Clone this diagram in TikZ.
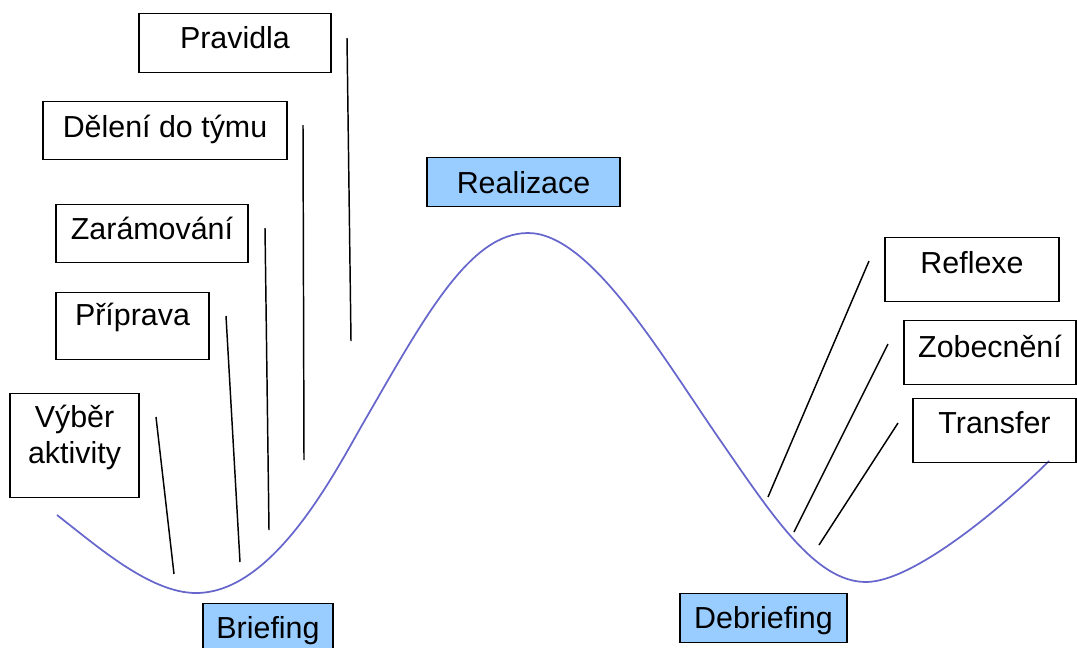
\documentclass[tikz,border=0pt]{standalone}
\usepackage{fontspec}
\setmainfont{Liberation Sans}
\definecolor{curvecol}{RGB}{102,102,204}
\definecolor{hlblue}{RGB}{153,204,255}
\begin{document}
\begin{tikzpicture}[x=0.75pt,y=-0.75pt,
  box/.style={draw=black, line width=1.1pt, inner sep=0pt, anchor=north,
    font=\fontsize{22.8}{27}\selectfont},
  hbox/.style={box, fill=hlblue},
  tick/.style={draw=black, line width=1.1pt},
  wave/.style={draw=curvecol, line width=1.3pt}]
\useasboundingbox (0,0) rectangle (1077,647);
\clip (0,0) rectangle (1077,647);

% curve
\coordinate (c0) at (57,515);
\coordinate (c1) at (196,593);
\coordinate (c2) at (365,420);
\coordinate (c3) at (528,233);
\coordinate (c4) at (720,440);
\coordinate (c5) at (866,582);
\coordinate (c6) at (1049,461);
\draw[wave] (c0) .. controls (97,546) and (150,593) .. (c1)
  .. controls (275,593) and (337,468) .. (c2)
  .. controls (425,316) and (470,233) .. (c3)
  .. controls (590,233) and (660,353) .. (c4)
  .. controls (772,515) and (815,582) .. (c5)
  .. controls (915,582) and (1009,501) .. (c6);

% boxes
\node[box, minimum width=144pt, text height=26.25pt, text depth=18pt] (prav) at (235,13) {Pravidla};
\node[box, minimum width=183pt, text height=27pt, text depth=16.5pt] (del) at (165,101) {Dělení do týmu};
\node[box, minimum width=144pt, text height=26.25pt, text depth=17.25pt] (zar) at (152,204) {Zarámování};
\node[box, minimum width=114.75pt, text height=24.75pt, text depth=25.5pt] (prip) at (132.5,292) {Příprava};
\node[box, minimum width=96.75pt, text height=25.5pt, text depth=52.5pt] (vyb) at (74.5,393)
  {\begin{tabular}[t]{@{}c@{}}Výběr\\aktivity\end{tabular}};
\node[hbox, minimum width=97.5pt, text height=26.25pt, text depth=15pt] (brief) at (268,603) {Briefing};
\node[hbox, minimum width=144.75pt, text height=27pt, text depth=9.75pt] (real) at (523.5,157) {Realizace};
\node[box, minimum width=130.5pt, text height=27pt, text depth=21pt] (refl) at (972,237) {Reflexe};
\node[box, minimum width=129pt, text height=27.75pt, text depth=20.25pt] (zob) at (990,320) {Zobecnění};
\node[box, minimum width=122.25pt, text height=26.25pt, text depth=21.75pt] (trans) at (994.5,398) {Transfer};
\node[hbox, minimum width=125.25pt, text height=26.25pt, text depth=10.5pt] (debrief) at (763.5,593) {Debriefing};

% tick lines
\coordinate (vybA) at (156,417);  \coordinate (vybB) at (174,574);
\coordinate (pripA) at (226,316); \coordinate (pripB) at (240,562);
\coordinate (zarA) at (265,228);  \coordinate (zarB) at (269,530);
\coordinate (delA) at (303,125);  \coordinate (delB) at (304,460);
\coordinate (pravA) at (347,38);  \coordinate (pravB) at (351,341);
\coordinate (reflA) at (869,261); \coordinate (reflB) at (768,497);
\coordinate (zobA) at (888,344);  \coordinate (zobB) at (794,532);
\coordinate (transA) at (898,423); \coordinate (transB) at (819,545);
\draw[tick] (vybA) -- (vybB);
\draw[tick] (pripA) -- (pripB);
\draw[tick] (zarA) -- (zarB);
\draw[tick] (delA) -- (delB);
\draw[tick] (pravA) -- (pravB);
\draw[tick] (reflA) -- (reflB);
\draw[tick] (zobA) -- (zobB);
\draw[tick] (transA) -- (transB);
\end{tikzpicture}
\end{document}
